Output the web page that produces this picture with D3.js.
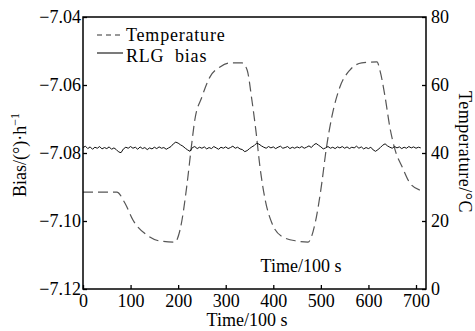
<!DOCTYPE html>
<html>
<head>
<meta charset="utf-8">
<script src="https://cdn.jsdelivr.net/npm/d3@7"></script>
<style>
  body { margin: 0; background: #fff; }
</style>
</head>
<body>
<script>
// time (x100 s) and temperature (°C)
const tempTime = [0, 71, 88, 105, 134, 162, 193, 204, 219, 227, 235, 250, 267, 288, 309, 334,
  345, 355, 364, 372, 383, 397, 420, 450, 473, 488, 502, 511, 523, 540, 561, 586, 618,
  624, 635, 645, 656, 671, 687, 708];
const tempValues = [28.5, 28.5, 25.3, 20.3, 15.9, 14.1, 13.8, 17.4, 31.2, 40.9, 49.7, 56.5, 62.4, 65.3, 66.5, 66.5,
  64.4, 55.6, 45.9, 35.9, 26.2, 19.4, 15.3, 14.1, 13.8, 19.4, 31.2, 40.9, 50.6, 59.4, 64.4, 66.5, 66.8,
  64.4, 56.5, 47.6, 40.9, 35.9, 31.2, 29.1];

// RLG bias, one reading every 5 (x100 s) from 0 to 710
const biasStep = 5;
const biasValues = [
  -7.0784, -7.0780, -7.0787, -7.0782, -7.0789, -7.0783, -7.0786, -7.0781, -7.0788, -7.0784,
  -7.0787, -7.0782, -7.0789, -7.0785, -7.0790, -7.0797, -7.0799, -7.0788, -7.0783, -7.0786,
  -7.0781, -7.0786, -7.0783, -7.0789, -7.0782, -7.0787, -7.0784, -7.0790, -7.0785, -7.0788,
  -7.0783, -7.0787, -7.0782, -7.0786, -7.0784, -7.0789, -7.0785, -7.0781, -7.0773, -7.0768,
  -7.0771, -7.0776, -7.0780, -7.0786, -7.0791, -7.0795, -7.0784, -7.0781, -7.0787, -7.0783,
  -7.0786, -7.0782, -7.0788, -7.0784, -7.0787, -7.0781, -7.0785, -7.0789, -7.0783, -7.0786,
  -7.0782, -7.0787, -7.0784, -7.0780, -7.0786, -7.0783, -7.0788, -7.0790, -7.0796, -7.0793,
  -7.0787, -7.0782, -7.0778, -7.0771, -7.0774, -7.0779, -7.0783, -7.0786, -7.0781, -7.0785,
  -7.0782, -7.0787, -7.0783, -7.0780, -7.0786, -7.0784, -7.0781, -7.0787, -7.0783, -7.0786,
  -7.0782, -7.0785, -7.0781, -7.0786, -7.0783, -7.0779, -7.0784, -7.0776, -7.0772, -7.0777,
  -7.0782, -7.0788, -7.0785, -7.0781, -7.0786, -7.0783, -7.0787, -7.0782, -7.0785, -7.0781,
  -7.0786, -7.0782, -7.0787, -7.0783, -7.0785, -7.0780, -7.0786, -7.0782, -7.0788, -7.0784,
  -7.0787, -7.0783, -7.0791, -7.0795, -7.0790, -7.0784, -7.0777, -7.0773, -7.0779, -7.0783,
  -7.0786, -7.0781, -7.0785, -7.0782, -7.0787, -7.0783, -7.0786, -7.0781, -7.0785, -7.0782,
  -7.0786, -7.0783, -7.0785
];

const xTicks = [0, 100, 200, 300, 400, 500, 600, 700];
const biasTicks = [-7.12, -7.10, -7.08, -7.06, -7.04];
const tempTicks = [0, 20, 40, 60, 80];

const serif = "'Liberation Serif', 'Times New Roman', 'DejaVu Serif', serif";

const margin = { top: 17, right: 49, bottom: 42, left: 83 };
const totalWidth = 475;
const totalHeight = 331;
const width = totalWidth - margin.left - margin.right;
const height = totalHeight - margin.top - margin.bottom;

const svg = d3.select("body")
  .append("svg")
  .attr("width", totalWidth)
  .attr("height", totalHeight)
  .append("g")
  .attr("transform", `translate(${margin.left}, ${margin.top})`);

const xScale = d3.scaleLinear().domain([0, 721]).range([0, width]);
const yBias = d3.scaleLinear().domain([-7.12, -7.04]).range([height, 0]);
const yTemp = d3.scaleLinear().domain([0, 80]).range([height, 0]);

// lines
const biasData = biasValues.map((v, i) => ({ t: i * biasStep, v }));
const tempData = tempTime.map((t, i) => ({ t, v: tempValues[i] }));

svg.append("path")
  .datum(tempData)
  .attr("fill", "none")
  .attr("stroke", "#555")
  .attr("stroke-width", 1.2)
  .attr("stroke-dasharray", "10,5")
  .attr("d", d3.line().x(d => xScale(d.t)).y(d => yTemp(d.v)).curve(d3.curveMonotoneX));

svg.append("path")
  .datum(biasData)
  .attr("fill", "none")
  .attr("stroke", "#111")
  .attr("stroke-width", 1)
  .attr("d", d3.line().x(d => xScale(d.t)).y(d => yBias(d.v)));

// axes
const styleAxis = g => {
  g.attr("font-family", serif);
  g.select(".domain").remove();
  g.selectAll(".tick line").attr("stroke", "#000").attr("stroke-width", 1.3);
  g.selectAll(".tick text").attr("fill", "#000").attr("font-size", 18);
};

svg.append("g")
  .attr("transform", `translate(0, ${height})`)
  .call(d3.axisBottom(xScale).tickValues(xTicks).tickSize(-4).tickPadding(4).tickFormat(d3.format("d")))
  .call(styleAxis)
  .selectAll(".tick text").attr("y", 4).attr("dy", "0.75em");

svg.append("g")
  .call(d3.axisLeft(yBias).tickValues(biasTicks).tickSize(-4).tickPadding(3).tickFormat(d3.format(".2f")))
  .call(styleAxis)
  .selectAll(".tick text").attr("x", -2);

svg.append("g")
  .attr("transform", `translate(${width}, 0)`)
  .call(d3.axisRight(yTemp).tickValues(tempTicks).tickSize(-4).tickPadding(6).tickFormat(d3.format("d")))
  .call(styleAxis)
  .selectAll(".tick text").attr("x", 5);

// frame
svg.append("rect")
  .attr("width", width)
  .attr("height", height)
  .attr("fill", "none")
  .attr("stroke", "#000")
  .attr("stroke-width", 1.5);

// axis titles
svg.append("text")
  .attr("x", 164)
  .attr("y", height + 37)
  .attr("text-anchor", "middle")
  .attr("font-size", 18)
  .text("Time/100 s");

svg.append("text")
  .attr("x", 218)
  .attr("y", 255)
  .attr("text-anchor", "middle")
  .attr("font-size", 18)
  .text("Time/100 s");

const leftTitle = svg.append("text")
  .attr("transform", "rotate(-90)")
  .attr("x", -138)
  .attr("y", -57)
  .attr("text-anchor", "middle")
  .attr("font-size", 18);
leftTitle.append("tspan").text("Bias/(°)·h");
leftTitle.append("tspan").attr("dy", -7).attr("font-size", 12).text("−1");

svg.append("text")
  .attr("transform", `translate(${width + 33}, 135) rotate(90)`)
  .attr("text-anchor", "middle")
  .attr("font-size", 18)
  .attr("letter-spacing", 0.5)
  .text("Temperature/°C");

// legend
const legend = svg.append("g").attr("transform", "translate(14, 18)");
legend.append("line")
  .attr("x1", 0).attr("x2", 26).attr("y1", 0).attr("y2", 0)
  .attr("stroke", "#333").attr("stroke-width", 1.2).attr("stroke-dasharray", "5,4");
legend.append("text")
  .attr("x", 29).attr("y", 6)
  .attr("font-size", 18)
  .attr("letter-spacing", 0.8)
  .text("Temperature");
legend.append("line")
  .attr("x1", 0).attr("x2", 26).attr("y1", 18).attr("y2", 18)
  .attr("stroke", "#222").attr("stroke-width", 1.2);
legend.append("text")
  .attr("x", 29).attr("y", 27)
  .attr("font-size", 18)
  .attr("letter-spacing", 0.8)
  .style("white-space", "pre")
  .text("RLG  bias");

// serif everywhere, as in the original figure
d3.selectAll("svg text").style("font-family", serif).attr("fill", "#000");
</script>
</body>
</html>
